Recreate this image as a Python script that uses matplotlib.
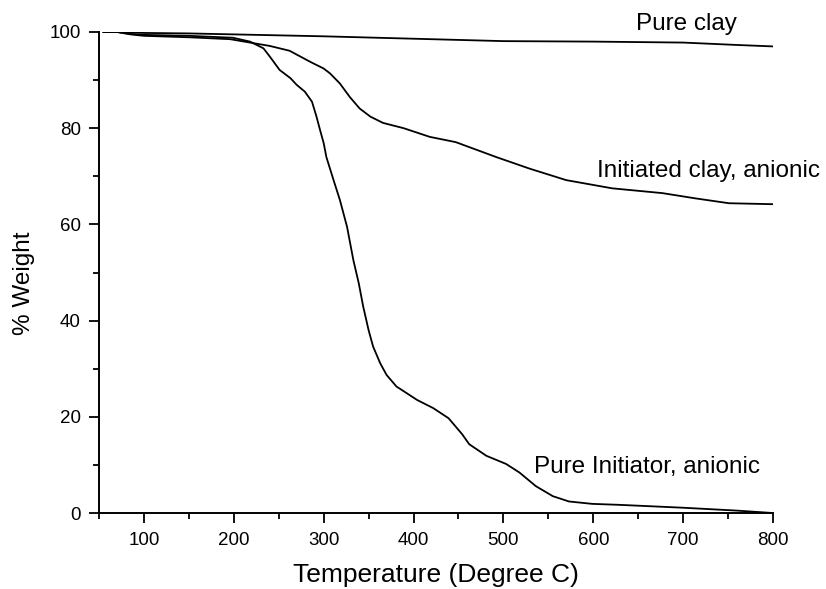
import matplotlib
matplotlib.use("Agg")
import matplotlib.pyplot as plt
from matplotlib.ticker import MultipleLocator

plt.rcParams['font.family'] = ['Liberation Sans', 'DejaVu Sans']

# Pure clay
clay_T = [55, 70, 100, 150, 200, 300, 400, 500, 600, 700, 760, 800]
clay_W = [100.0, 100.0, 99.8, 99.7, 99.5, 99.1, 98.6, 98.1, 98.0, 97.8, 97.3, 97.0]

# Initiated clay, anionic
ic_T = [55, 70, 85, 100, 150, 196, 218, 240, 262, 274, 285, 300, 307, 318, 329,
        340, 352, 366, 389, 418, 447, 492, 529, 570, 621, 677, 714, 751, 800]
ic_W = [100.0, 100.0, 99.5, 99.2, 98.9, 98.5, 97.8, 97.1, 96.1, 94.9, 93.8,
        92.4, 91.4, 89.3, 86.5, 84.1, 82.4, 81.1, 80.0, 78.2, 77.1, 74.0, 71.6,
        69.2, 67.5, 66.5, 65.4, 64.4, 64.2]

# Pure Initiator, anionic
pi_T = [55, 70, 85, 100, 150, 199, 218, 233, 240, 251, 263, 270, 279, 287, 292,
        296, 300, 303, 311, 318, 326, 333, 339, 344, 350, 355, 363, 370, 381,
        404, 422, 439, 454, 462, 481, 503, 518, 536, 555, 573, 599, 629, 700,
        760, 800]
pi_W = [100.0, 100.0, 99.6, 99.4, 99.2, 98.8, 98.0, 96.6, 94.9, 92.1, 90.4,
        89.0, 87.6, 85.5, 82.4, 79.6, 76.9, 74.0, 69.2, 65.1, 59.5, 52.6, 47.8,
        42.9, 38.0, 34.6, 31.1, 28.7, 26.3, 23.5, 21.8, 19.7, 16.4, 14.3, 11.9,
        10.2, 8.4, 5.6, 3.5, 2.4, 1.9, 1.7, 1.1, 0.5, 0.0]

labels = ["Pure clay", "Initiated clay, anionic", "Pure Initiator, anionic"]

fig = plt.figure(figsize=(8.26, 5.89), dpi=100)
ax = fig.add_axes([0.1199, 0.129, 0.8159, 0.8167])

for T, W in [(clay_T, clay_W), (ic_T, ic_W), (pi_T, pi_W)]:
    ax.plot(T, W, color='black', lw=1.3, solid_joinstyle='round')

ax.set_xlim(50, 800)
ax.set_ylim(0, 100)
ax.xaxis.set_major_locator(MultipleLocator(100))
ax.xaxis.set_minor_locator(MultipleLocator(50))
ax.yaxis.set_major_locator(MultipleLocator(20))
ax.yaxis.set_minor_locator(MultipleLocator(10))

for s in ['top', 'right']:
    ax.spines[s].set_visible(False)
for s in ['left', 'bottom']:
    ax.spines[s].set_linewidth(1.4)

ax.tick_params(which='major', direction='out', length=7.5, width=1.3, labelsize=13.5)
ax.tick_params(axis='x', which='major', pad=6)
ax.tick_params(axis='y', which='major', pad=5.5)
ax.tick_params(which='minor', direction='out', length=4, width=1.3)

ax.set_xlabel("Temperature (Degree C)", fontsize=19)
ax.xaxis.label.set_va('baseline')
ax.xaxis.set_label_coords(0.5, -0.143)
ax.set_ylabel("% Weight", fontsize=17.5)
ax.yaxis.set_label_coords(-0.095, 0.4775)

ax.text(648, 100.4, labels[0], fontsize=17.5, ha='left', va='baseline', clip_on=False)
ax.text(604, 69.9, labels[1], fontsize=17.5, ha='left', va='baseline')
ax.text(534, 8.25, labels[2], fontsize=17.5, ha='left', va='baseline')

fig.savefig("out.png", dpi=100)
